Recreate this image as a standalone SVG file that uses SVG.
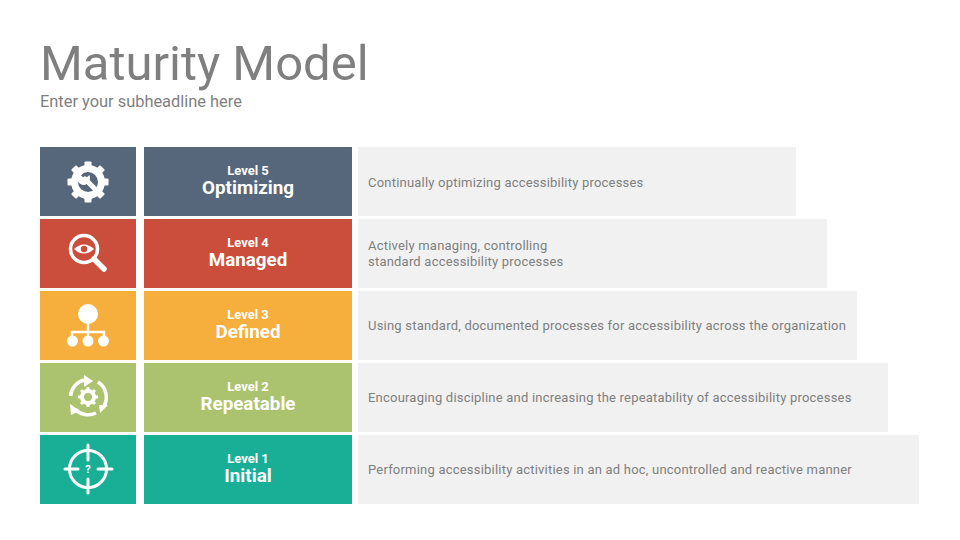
<svg xmlns="http://www.w3.org/2000/svg" width="960" height="540" viewBox="0 0 960 540">
<style>
text{font-family:Roboto,"Liberation Sans",sans-serif}
.bar{fill:#f1f1f1}
.d{font-size:13px;fill:#7f7f7f;letter-spacing:.21px}
.lv{font-size:13px;font-weight:700;fill:#fff;text-anchor:middle}
.nm{font-size:18.800px;font-weight:700;fill:#fff;text-anchor:middle}
.w{fill:#fff}
.s{fill:none;stroke:#fff;stroke-linecap:round}
</style>
<rect width="960" height="540" fill="#fff"/>
<text x="40" y="79.500" font-size="49" fill="#7f7f7f">Maturity Model</text>
<text x="40" y="107" font-size="16.400" fill="#7f7f7f">Enter your subheadline here</text>

<g id="level5">
<rect x="40" y="147" width="96" height="69" fill="#56677c"/>
<rect x="144" y="147" width="208" height="69" fill="#56677c"/>
<rect class="bar" x="358" y="147" width="438" height="69"/>
<g transform="translate(88,182)">
<circle class="w" r="17"/>
<g class="w"><rect x="-3.500" y="-20.500" width="7" height="7" rx="1"/><rect x="-3.500" y="-20.500" width="7" height="7" rx="1" transform="rotate(45)"/><rect x="-3.500" y="-20.500" width="7" height="7" rx="1" transform="rotate(90)"/><rect x="-3.500" y="-20.500" width="7" height="7" rx="1" transform="rotate(135)"/><rect x="-3.500" y="-20.500" width="7" height="7" rx="1" transform="rotate(180)"/><rect x="-3.500" y="-20.500" width="7" height="7" rx="1" transform="rotate(225)"/><rect x="-3.500" y="-20.500" width="7" height="7" rx="1" transform="rotate(270)"/><rect x="-3.500" y="-20.500" width="7" height="7" rx="1" transform="rotate(315)"/></g>
<circle r="10" fill="#56677c"/>
<path d="M-3 -3L10 10" stroke="#fff" stroke-width="5" stroke-linecap="round"/>
<path d="M-11 -6A7.500 7.500 0 0 1 -3 -11L-7 -6.500L-3 -3L1.500 -7A7.500 7.500 0 0 1 -3 3A7.500 7.500 0 0 1 -11 -6Z" class="w"/>
</g>
<text class="lv" x="248" y="175">Level 5</text><text class="nm" x="248" y="194">Optimizing</text>
<text class="d" x="368" y="187">Continually optimizing accessibility processes</text>
</g>

<g id="level4">
<rect x="40" y="219" width="96" height="69" fill="#cb4e3c"/>
<rect x="144" y="219" width="208" height="69" fill="#cb4e3c"/>
<rect class="bar" x="358" y="219" width="469" height="69"/>
<circle class="s" cx="84" cy="249" r="13.500" stroke-width="3.500"/>
<path class="s" d="M94 259L104 269" stroke-width="5.500"/>
<path class="w" d="M74 249Q84 240 94 249Q84 258 74 249Z"/>
<circle cx="84" cy="249" r="3.200" fill="#cb4e3c"/>
<text class="lv" x="248" y="247">Level 4</text><text class="nm" x="248" y="266">Managed</text>
<text class="d" x="368" y="250">Actively managing, controlling</text>
<text class="d" x="368" y="266">standard accessibility processes</text>
</g>

<g id="level3">
<rect x="40" y="291" width="96" height="69" fill="#f6ae3c"/>
<rect x="144" y="291" width="208" height="69" fill="#f6ae3c"/>
<rect class="bar" x="358" y="291" width="499" height="69"/>
<circle class="w" cx="88" cy="314" r="10"/>
<path d="M88 322V341M72 341V332H104V341" fill="none" stroke="#fff" stroke-width="2.500"/>
<circle class="w" cx="72.500" cy="341" r="5.500"/><circle class="w" cx="88" cy="341" r="5.500"/><circle class="w" cx="103.500" cy="341" r="5.500"/>
<text class="lv" x="248" y="319">Level 3</text><text class="nm" x="248" y="338">Defined</text>
<text class="d" x="368" y="330">Using standard, documented processes for accessibility across the organization</text>
</g>

<g id="level2">
<rect x="40" y="363" width="96" height="69" fill="#abc36f"/>
<rect x="144" y="363" width="208" height="69" fill="#abc36f"/>
<rect class="bar" x="358" y="363" width="530" height="69"/>
<g fill="none" stroke="#fff" stroke-width="3.500">
<path d="M70.500 396A18 18 0 0 1 84 380"/>
<path d="M98 382A18 18 0 0 1 104 406"/>
<path d="M96 413A18 18 0 0 1 75 409"/>
</g>
<path class="w" d="M84 375L93 381L84 387Z"/><path class="w" d="M99 405L108 405L100 413Z"/><path class="w" d="M70 404L71 415L80 411Z"/>
<circle class="s" cx="88" cy="397" r="6" stroke-width="4"/>
<g stroke="#fff" stroke-width="3"><path d="M88 387V391M88 403V407M78 397H82M94 397H98M81 390L84 393M92 401L95 404M95 390L92 393M84 401L81 404"/></g>
<text class="lv" x="248" y="391">Level 2</text><text class="nm" x="248" y="410">Repeatable</text>
<text class="d" x="368" y="402">Encouraging discipline and increasing the repeatability of accessibility processes</text>
</g>

<g id="level1">
<rect x="40" y="435" width="96" height="69" fill="#19ae96"/>
<rect x="144" y="435" width="208" height="69" fill="#19ae96"/>
<rect class="bar" x="358" y="435" width="561" height="69"/>
<circle class="s" cx="88" cy="469" r="18.500" stroke-width="3"/>
<path class="s" d="M88 445V460M88 479V493M65 469H78M98 469H112" stroke-width="3"/>
<text x="88" y="473" font-size="11" font-weight="700" fill="#fff" text-anchor="middle">?</text>
<text class="lv" x="248" y="463">Level 1</text><text class="nm" x="248" y="482">Initial</text>
<text class="d" x="368" y="474">Performing accessibility activities in an ad hoc, uncontrolled and reactive manner</text>
</g>
<g id="connectors"/>
</svg>
